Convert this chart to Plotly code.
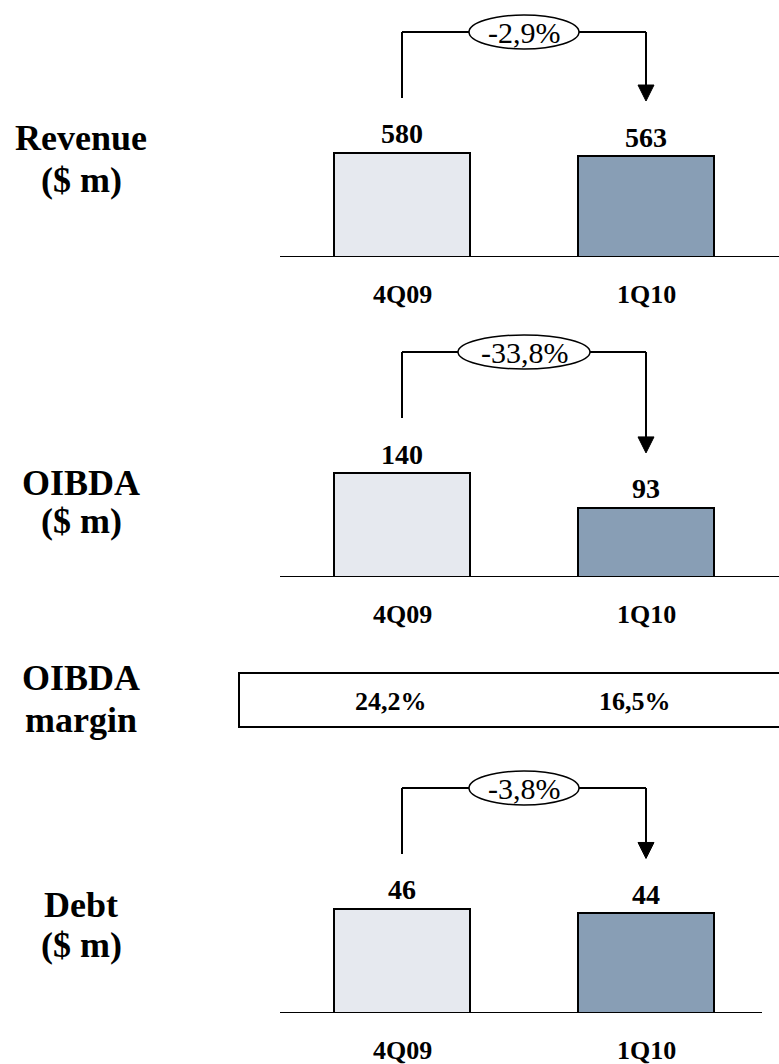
import plotly.graph_objects as go

# ---------------- data ----------------
categories = ["4Q09", "1Q10"]
revenue = [580, 563]
oibda = [140, 93]
debt = [46, 44]
oibda_margin = ["24,2%", "16,5%"]
revenue_change = "-2,9%"
oibda_change = "-33,8%"
debt_change = "-3,8%"
panel_titles = [["Revenue", "($ m)"], ["OIBDA", "($ m)"], ["Debt", "($ m)"]]
margin_title = ["OIBDA", "margin"]

# ---------------- layout / style ----------------
W, H = 779, 1064
XSTEP = 244.0          # px between category centres
XC0 = 402.0            # px of first category centre
xmin, xmax = -XC0 / XSTEP, (W - XC0) / XSTEP
FONT = "Liberation Serif, Times New Roman, serif"
C_OLD, C_NEW = "#E6E9EF", "#889EB5"
LW = 2


def py(px):
    return 1 - px / H


panels = [
    dict(values=revenue, change=revenue_change, title=panel_titles[0],
         base=257, top=0, ymax=1433, ell_w=110, title_y=(138, 180), line_end=xmax + 1),
    dict(values=oibda, change=oibda_change, title=panel_titles[1],
         base=577, top=320, ymax=346, ell_w=132, title_y=(483, 521), line_end=xmax + 1),
    dict(values=debt, change=debt_change, title=panel_titles[2],
         base=1013, top=740, ymax=120.7, ell_w=110, title_y=(905, 945), line_end=(762 - XC0) / XSTEP),
]

fig = go.Figure()
shapes = []
annotations = []
layout_axes = {}


def ann(**kw):
    kw.setdefault("showarrow", False)
    kw.setdefault("xanchor", "center")
    kw.setdefault("yanchor", "middle")
    annotations.append(kw)


for i, p in enumerate(panels):
    n = "" if i == 0 else str(i + 1)
    xa, ya = "x" + n, "y" + n
    layout_axes["xaxis" + n] = dict(type="category", categoryorder="array",
                                    categoryarray=categories, range=[xmin, xmax],
                                    visible=False, domain=[0, 1], anchor=ya,
                                    fixedrange=True)
    layout_axes["yaxis" + n] = dict(range=[0, p["ymax"]], domain=[py(p["base"]), py(p["top"])],
                                    visible=False, anchor=xa, fixedrange=True)
    vals = p["values"]
    fig.add_trace(go.Bar(x=categories, y=vals, xaxis=xa, yaxis=ya, width=0.561,
                         marker=dict(color=[C_OLD, C_NEW], line=dict(color="black", width=LW)),
                         hoverinfo="skip", showlegend=False))
    u = p["ymax"] / (p["base"] - p["top"])   # data units per px
    L = 225 * u
    hw = p["ell_w"] / 2 / XSTEP
    line = dict(color="black", width=LW)
    # baseline
    shapes.append(dict(type="line", xref=xa, yref=ya, x0=-0.5, x1=p["line_end"], y0=0, y1=0, line=line))
    # left vertical
    shapes.append(dict(type="line", xref=xa, yref=ya, x0=0, x1=0, y0=vals[0] + 55 * u, y1=L, line=line))
    # horizontal left / right
    shapes.append(dict(type="line", xref=xa, yref=ya, x0=0, x1=0.5 - hw, y0=L, y1=L, line=line))
    shapes.append(dict(type="line", xref=xa, yref=ya, x0=0.5 + hw, x1=1, y0=L, y1=L, line=line))
    # right vertical
    shapes.append(dict(type="line", xref=xa, yref=ya, x0=1, x1=1, y0=L, y1=vals[1] + 70 * u, line=line))
    # arrow head
    ah = 8 / XSTEP
    yb, yt = vals[1] + 71 * u, vals[1] + 55 * u
    shapes.append(dict(type="path", xref=xa, yref=ya,
                       path=f"M {1 - ah} {yb} L {1 + ah} {yb} L 1 {yt} Z",
                       fillcolor="black", line=dict(color="black", width=1)))
    # ellipse
    shapes.append(dict(type="circle", xref=xa, yref=ya, x0=0.5 - hw, x1=0.5 + hw,
                       y0=L - 17 * u, y1=L + 17 * u, fillcolor="white",
                       line=dict(color="black", width=1.5)))
    ann(x=0.5, y=L, xref=xa, yref=ya, text=p["change"],
        font=dict(family=FONT, size=30, color="black"))
    for c, v in zip(categories, vals):
        ann(x=c, y=v, xref=xa, yref=ya, text=f"<b>{v}</b>", yshift=19,
            font=dict(family=FONT, size=28, color="black"))
        ann(x=c, y=0, xref=xa, yref=ya, text=f"<b>{c}</b>", yshift=-37,
            font=dict(family=FONT, size=26, color="black"))
    for t, ty in zip(p["title"], p["title_y"]):
        ann(x=81 / W, y=py(ty), xref="paper", yref="paper", text=f"<b>{t}</b>",
            font=dict(family=FONT, size=36, color="black"))

# OIBDA margin box
shapes.append(dict(type="rect", xref="x", yref="paper", x0=(239 - XC0) / XSTEP, x1=xmax + 1,
                   y0=py(727), y1=py(673), line=dict(color="black", width=LW), fillcolor="rgba(0,0,0,0)"))
for c, m in zip(categories, oibda_margin):
    ann(x=c, y=py(701), xref="x", yref="paper", text=f"<b>{m}</b>", xshift=-11,
        font=dict(family=FONT, size=26, color="black"))
for t, ty in zip(margin_title, (678, 720)):
    ann(x=81 / W, y=py(ty), xref="paper", yref="paper", text=f"<b>{t}</b>",
        font=dict(family=FONT, size=36, color="black"))

fig.update_layout(width=W, height=H, margin=dict(l=0, r=0, t=0, b=0),
                  paper_bgcolor="white", plot_bgcolor="white",
                  shapes=shapes, annotations=annotations, bargap=0, **layout_axes)

fig.write_html("out.html", config={"displayModeBar": False},
               post_script="document.body.style.margin='0';")
